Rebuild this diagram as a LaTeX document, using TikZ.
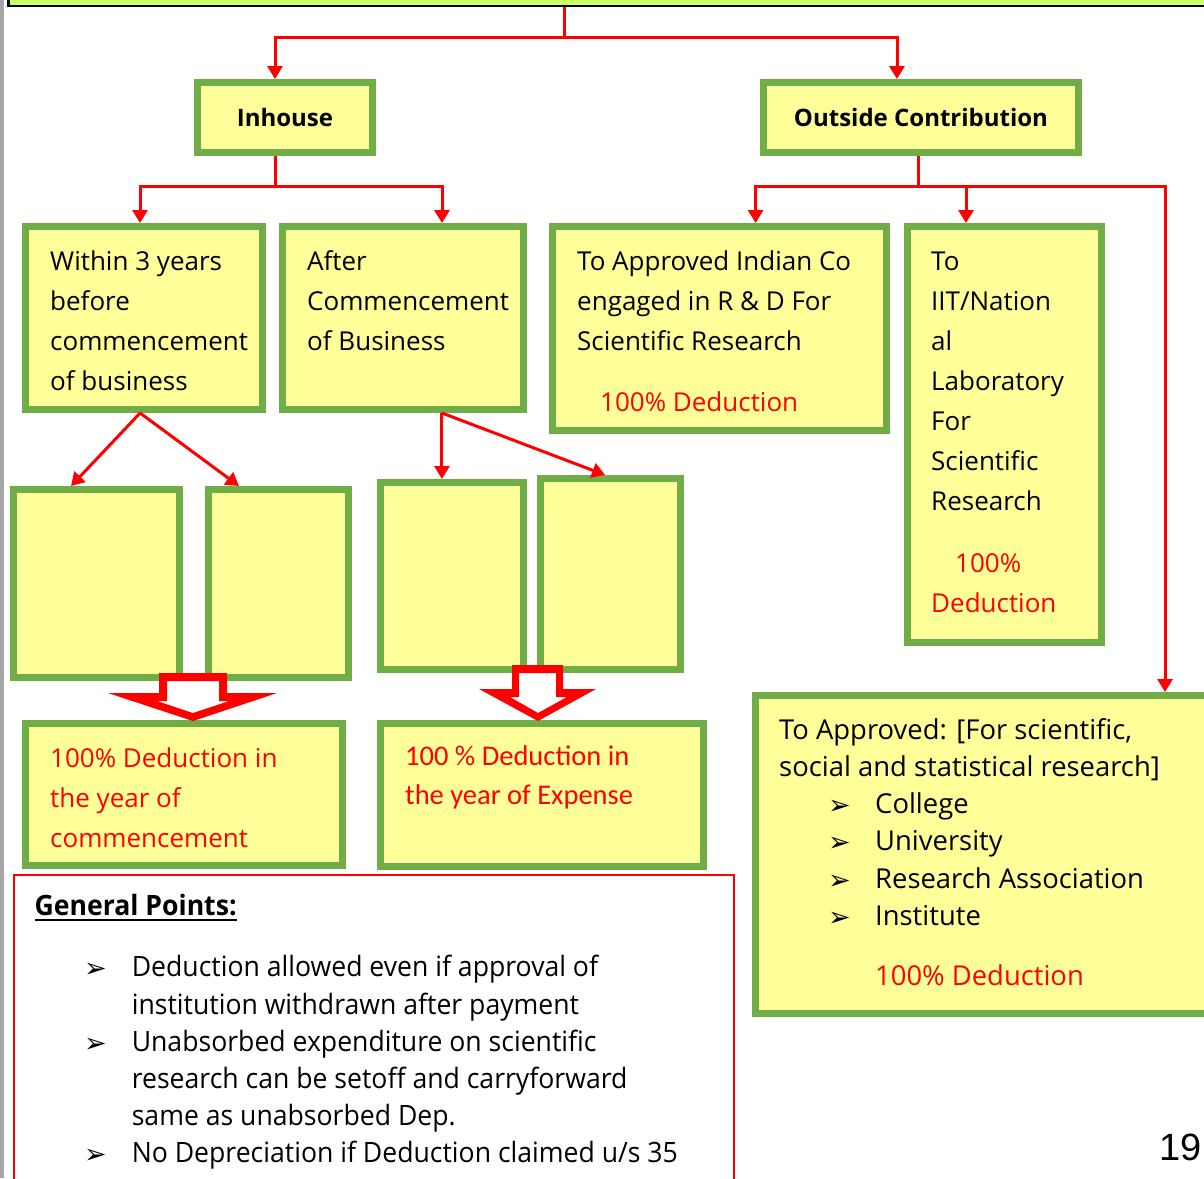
\documentclass[tikz,border=0pt]{standalone}
\usepackage{fontspec}
\setmainfont{Open Sans}
\newfontfamily\narrowfont[FakeStretch=0.95]{Open Sans}
\newfontfamily\calfont{Carlito}
\newfontfamily\arialfont{Liberation Sans}
\newfontfamily\symfont{DejaVu Sans}
\usetikzlibrary{arrows.meta,calc}

\definecolor{boxgreen}{HTML}{70AD47}
\definecolor{boxfill}{HTML}{FFFF99}
\definecolor{topfill}{HTML}{CCFF66}
\definecolor{pagegray}{HTML}{A6A6A6}

\newcommand\firstln{\rule{0pt}{22pt}}
\newcommand\bul{\raisebox{-1pt}{\symfont\fontsize{27}{27}\selectfont ➢}}
% green framed box given by its outer corners: name, x1, y1, x2, y2, text
\newcommand\gbx[6]{\node[gbox, minimum width={#4-#2-7}, minimum height={#5-#3-7}] (#1) at ({(#2+#4)/2},{(#3+#5)/2}) {#6};}

\tikzset{
  gbox/.style={rectangle, draw=boxgreen, fill=boxfill, line width=7pt, inner sep=0pt, outer sep=3.5pt,
               font=\bfseries\fontsize{24}{29}\selectfont},
  link/.style={draw=red, line width=3pt, line join=miter},
  conn/.style={link, -{Triangle[length=13pt,width=15pt]}},
  txt/.style={anchor=north west, inner sep=0pt, align=left, font=\fontsize{26}{40}\selectfont},
  blockarrow/.style={fill=red, even odd rule},
}

\begin{document}
\begin{tikzpicture}[x=1pt, y=-1pt]
\useasboundingbox (0,0) rectangle (1204,1178);
\fill[white] (0,0) rectangle (1204,1178);
\fill[pagegray] (0,0) rectangle (3.5,1178);

% top banner
\node[rectangle, draw=black, fill=topfill, line width=2.5pt, outer sep=1.25pt, inner sep=0pt,
      minimum width=1230.5, minimum height=44.5] (top) at (623.5,-16.5) {};

% level 1
\gbx{inh}{194}{79}{376}{156}{Inhouse}
\gbx{out}{760}{79}{1082}{156}{Outside Contribution}

% level 2
\gbx{A}{22}{223}{266}{413}{}
\gbx{B}{279}{223}{527}{413}{}
\gbx{C}{549}{223}{890}{434}{}
\gbx{D}{904}{223}{1105}{646}{}

% level 3 (empty)
\gbx{E1}{10}{486}{183}{681}{}
\gbx{E2}{205}{486}{352}{681}{}
\gbx{E3}{377}{479}{527}{673}{}
\gbx{E4}{537}{475}{684}{673}{}

% level 4
\gbx{F1}{22}{720}{346}{869}{}
\gbx{F2}{377}{720}{707}{870}{}
\gbx{G}{752}{692}{1225}{1017}{}

% general points frame
\node[rectangle, draw=red, line width=2.3pt, inner sep=0pt, outer sep=1.15pt,
      minimum width=719.7, minimum height=323.7] (gp) at (374,1037) {};

% connectors from the banner
\coordinate (j0) at (564,37);
\coordinate (j0a) at (275,37);
\coordinate (j0b) at (897,37);
\draw[link] (top.south -| j0) -- (j0);
\draw[conn] (j0) -- (j0a) -- (inh.north -| j0a);
\draw[conn] (j0) -- (j0b) -- (out.north -| j0b);

% connectors below Inhouse
\coordinate (jI) at (275,186);
\coordinate (jIa) at (140,186);
\coordinate (jIb) at (442,186);
\draw[link] (inh.south -| jI) -- (jI);
\draw[conn] (jI) -- (jIa) -- (A.north -| jIa);
\draw[conn] (jI) -- (jIb) -- (B.north -| jIb);

% connectors below Outside Contribution
\coordinate (jO) at (918,186);
\coordinate (jOa) at (755.6,186);
\coordinate (jOb) at (966,186);
\coordinate (jOc) at (1165,186);
\draw[link] (out.south -| jO) -- (jO);
\draw[conn] (jO) -- (jOa) -- (C.north -| jOa);
\draw[conn] (jO) -- (jOc) -- (G.north -| jOc);
\draw[conn] (jO) -- (jOb) -- (D.north -| jOb);

% splitting arrows
\coordinate (pA) at ($(A.south west)!0.484!(A.south east)$);
\coordinate (pB) at ($(B.south west)!0.657!(B.south east)$);
\draw[conn] (pA) -- ($(E1.north west)!0.353!(E1.north east)$);
\draw[conn] (pA) -- ($(E2.north west)!0.231!(E2.north east)$);
\draw[conn] (pB) -- (E3.north -| pB);
\draw[conn] (pB) -- ($(E4.north west)!0.463!(E4.north east)$);

% hollow block arrows
\fill[blockarrow]
  (159,673) -- (227,673) -- (227,693) -- (277,693) -- (193,721) -- (108,693) -- (159,693) -- cycle
  (167,681) -- (219,681) -- (219,701) -- (229,701) -- (193,713) -- (157,701) -- (167,701) -- cycle;
\fill[blockarrow]
  (512,665) -- (563,665) -- (563,689) -- (596,689) -- (538,721) -- (479,689) -- (512,689) -- cycle
  (519,673) -- (556,673) -- (556,697) -- (567,697) -- (538,713) -- (510,697) -- (519,697) -- cycle;

% texts
\node[txt] (tA) at (50,248) {\firstln Within 3 years\\before\\commencement\\of business};
\node[txt] (tB) at (307,248) {\firstln After\\Commencement\\of Business};
\node[txt] (tC) at (577,248) {\firstln To Approved Indian Co\\engaged in R \& D For\\Scientific Research};
\node[txt, text=red] (tC2) at (600,389) {\firstln 100\% Deduction};
\node[txt] (tD) at (931,248) {\firstln To\\IIT/Nation\\al\\Laboratory\\For\\Scientific\\Research};
\node[txt, text=red] (tD2) at (931,550) {\firstln\hspace*{24pt}100\%\\Deduction};
\node[txt, text=red] (tF1) at (50,745) {\firstln 100\% Deduction in\\the year of\\commencement};
\node[txt, text=red, font=\calfont\fontsize{28.5}{39}\selectfont] (tF2) at (405,743)
  {\firstln 100 \% Deduction in\\the year of Expense};

\node[txt, font=\fontsize{27.4}{37}\selectfont] (tG) at (779,717)
  {\firstln To Approved: [For scientific,\\social and statistical research]};
\node[txt, font=\fontsize{27.4}{37.4}\selectfont] (tG2) at (828,791)
  {\firstln\makebox[47pt][l]{\bul}College\\\makebox[47pt][l]{\bul}University\\
   \makebox[47pt][l]{\bul}Research Association\\\makebox[47pt][l]{\bul}Institute};
\node[txt, text=red, font=\fontsize{27.4}{37}\selectfont] (tG3) at (875,963) {\firstln 100\% Deduction};

\node[anchor=base west, inner sep=0pt, font=\narrowfont\bfseries\fontsize{28}{37}\selectfont] (gpt) at (34.5,915) {General Points:};
\draw[line width=2pt] ([yshift=-4.5pt]gpt.base west) -- ([yshift=-4.5pt]gpt.base east);
\node[txt, font=\narrowfont\fontsize{28}{37.1}\selectfont] (gpl) at (84,954.7)
  {\firstln\makebox[47.6pt][l]{\bul}Deduction allowed even if approval of\\
   \hspace*{47.6pt}institution withdrawn after payment\\
   \makebox[47.6pt][l]{\bul}Unabsorbed expenditure on scientific\\
   \hspace*{47.6pt}research can be setoff and carryforward\\
   \hspace*{47.6pt}same as unabsorbed Dep.\\
   \makebox[47.6pt][l]{\bul}No Depreciation if Deduction claimed u/s 35};

\node[anchor=base west, inner sep=0pt, font=\arialfont\fontsize{38}{38}\selectfont] (pg) at (1159,1160) {19};
\end{tikzpicture}
\end{document}
